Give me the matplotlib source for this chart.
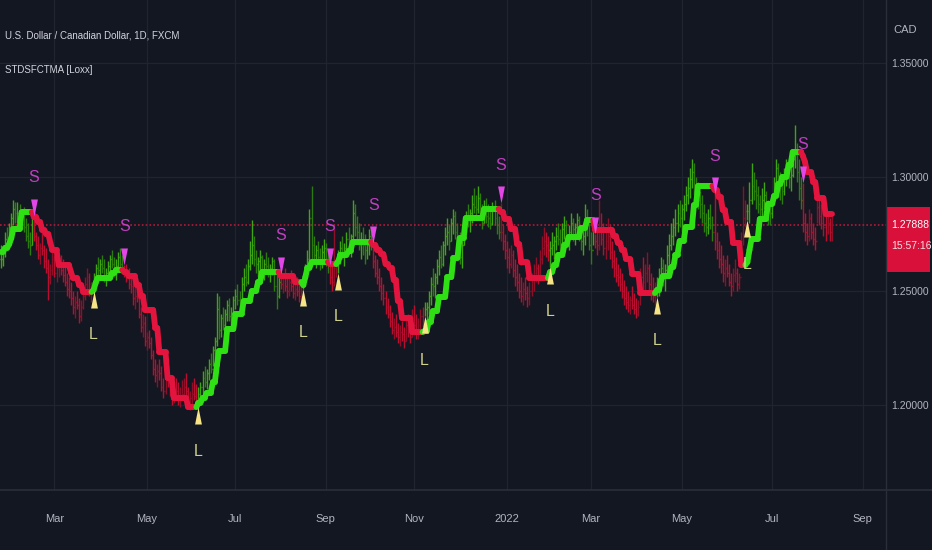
import numpy as np
import pandas as pd
import matplotlib
matplotlib.use("Agg")
import matplotlib.pyplot as plt
from matplotlib.collections import LineCollection
from matplotlib.lines import Line2D
from matplotlib.path import Path
from matplotlib.patches import Rectangle
import matplotlib.transforms as mtransforms

plt.rcParams['font.family'] = ['Liberation Sans', 'DejaVu Sans']

# USDCAD daily bars (business days from first_bar), prices in pips (1e-4)
high = [
    12700, 12690, 12760, 12780, 12800, 12840, 12900, 12890, 12890, 12880,
    12860, 12870, 12820, 12800, 12760, 12850, 12830, 12760, 12740, 12710,
    12760, 12700, 12690, 12640, 12620, 12680, 12660, 12620, 12650, 12660,
    12640, 12610, 12580, 12560, 12540, 12500, 12480, 12500, 12470, 12460,
    12520, 12560, 12600, 12580, 12540, 12580, 12620, 12650, 12640, 12660,
    12640, 12600, 12630, 12660, 12680, 12650, 12640, 12670, 12690, 12660,
    12615, 12620, 12600, 12580, 12560, 12520, 12540, 12500, 12430, 12400,
    12390, 12320, 12330, 12300, 12240, 12200, 12180, 12200, 12170, 12120,
    12140, 12170, 12130, 12090, 12100, 12120, 12100, 12080, 12110, 12120,
    12140, 12080, 12060, 12100, 12120, 12090, 12080, 12100, 12150, 12170,
    12160, 12200, 12230, 12260, 12300, 12490, 12480, 12400, 12430, 12420,
    12460, 12470, 12430, 12480, 12510, 12530, 12500, 12560, 12600, 12620,
    12640, 12720, 12810, 12740, 12680, 12650, 12680, 12660, 12640, 12670,
    12650, 12620, 12650, 12640, 12580, 12560, 12575, 12580, 12600, 12570,
    12560, 12590, 12560, 12540, 12560, 12530, 12520, 12560, 12620, 12680,
    12860, 12960, 12740, 12700, 12720, 12690, 12700, 12730, 12710, 12680,
    12615, 12620, 12770, 12640, 12680, 12720, 12740, 12710, 12760, 12780,
    12750, 12900, 12880, 12830, 12800, 12760, 12780, 12750, 12730, 12770,
    12780, 12710, 12660, 12640, 12600, 12560, 12530, 12500, 12470, 12440,
    12410, 12380, 12400, 12360, 12350, 12370, 12340, 12380, 12400, 12360,
    12420, 12440, 12400, 12380, 12420, 12430, 12450, 12450, 12500, 12560,
    12600, 12580, 12640, 12680, 12700, 12720, 12780, 12820, 12790, 12820,
    12860, 12850, 12800, 12760, 12730, 12800, 12850, 12880, 12860, 12920,
    12950, 12920, 12960, 12930, 12880, 12900, 12910, 12880, 12870, 12890,
    12900, 12850, 12830, 12885, 12790, 12750, 12720, 12690, 12700, 12680,
    12640, 12620, 12580, 12560, 12540, 12560, 12520, 12540, 12580, 12620,
    12650, 12620, 12680, 12740, 12780, 12760, 12740, 12720, 12760, 12740,
    12780, 12800, 12770, 12800, 12830, 12810, 12790, 12840, 12820, 12800,
    12840, 12830, 12790, 12770, 12880, 12860, 12800, 12760, 12820, 12750,
    12780, 12900, 12840, 12800, 12760, 12820, 12790, 12720, 12680, 12650,
    12620, 12600, 12580, 12550, 12520, 12500, 12480, 12520, 12490, 12470,
    12460, 12600, 12650, 12620, 12670, 12620, 12580, 12560, 12540, 12560,
    12600, 12650, 12640, 12620, 12700, 12750, 12800, 12820, 12860, 12880,
    12900, 12880, 12920, 12960, 13000, 13040, 13080, 13060, 13000, 12980,
    12940, 12920, 12880, 12840, 12860, 12880, 12830, 12925, 12760, 12720,
    12700, 12660, 12640, 12660, 12620, 12580, 12600, 12640, 12600, 12580,
    12760, 12960, 12900, 12880, 12980, 13060, 13020, 12990, 12960, 12920,
    12950, 12980, 12940, 12900, 12880, 12920, 13000, 13080, 13060, 13020,
    13000, 13040, 13080, 13060, 13050, 13120, 13230, 13150, 13080, 13000,
    12975, 12840, 12800, 12860, 12840, 12800, 12780, 12980, 12920, 12880,
    12860, 12840, 12830, 12820, 12830,
]
low = [
    12600, 12610, 12650, 12690, 12700, 12750, 12790, 12800, 12800, 12790,
    12770, 12760, 12720, 12690, 12660, 12700, 12720, 12680, 12640, 12620,
    12660, 12600, 12580, 12460, 12530, 12570, 12560, 12540, 12560, 12570,
    12540, 12520, 12480, 12470, 12440, 12400, 12380, 12420, 12360, 12370,
    12420, 12460, 12500, 12480, 12450, 12500, 12530, 12560, 12550, 12580,
    12540, 12520, 12550, 12580, 12600, 12560, 12550, 12590, 12600, 12580,
    12560, 12540, 12510, 12490, 12440, 12420, 12450, 12380, 12320, 12300,
    12260, 12240, 12250, 12200, 12130, 12100, 12080, 12110, 12060, 12030,
    12050, 12080, 12040, 12000, 12010, 12040, 12000, 11990, 12020, 12030,
    12040, 11990, 11980, 12000, 12020, 11990, 11990, 12020, 12050, 12080,
    12070, 12110, 12140, 12170, 12200, 12260, 12290, 12300, 12330, 12320,
    12370, 12370, 12330, 12380, 12420, 12440, 12400, 12450, 12500, 12520,
    12530, 12590, 12620, 12610, 12580, 12560, 12590, 12560, 12550, 12580,
    12560, 12540, 12570, 12500, 12420, 12470, 12510, 12490, 12500, 12470,
    12480, 12500, 12470, 12460, 12480, 12450, 12460, 12510, 12520, 12580,
    12600, 12640, 12620, 12600, 12630, 12590, 12600, 12630, 12610, 12580,
    12530, 12500, 12520, 12560, 12580, 12620, 12640, 12610, 12660, 12680,
    12650, 12700, 12740, 12720, 12680, 12640, 12660, 12620, 12640, 12660,
    12680, 12600, 12560, 12530, 12500, 12460, 12440, 12400, 12380, 12340,
    12310, 12290, 12300, 12270, 12260, 12280, 12250, 12280, 12300, 12270,
    12300, 12330, 12290, 12290, 12320, 12340, 12390, 12350, 12400, 12440,
    12480, 12470, 12530, 12570, 12600, 12610, 12660, 12700, 12680, 12720,
    12750, 12730, 12690, 12620, 12600, 12700, 12760, 12780, 12760, 12800,
    12840, 12820, 12840, 12810, 12770, 12800, 12800, 12780, 12770, 12790,
    12790, 12750, 12730, 12720, 12680, 12640, 12600, 12580, 12600, 12560,
    12520, 12500, 12470, 12450, 12440, 12460, 12430, 12440, 12480, 12500,
    12540, 12530, 12560, 12620, 12660, 12650, 12630, 12605, 12660, 12640,
    12680, 12700, 12660, 12690, 12730, 12700, 12680, 12740, 12720, 12700,
    12740, 12720, 12680, 12660, 12700, 12740, 12680, 12620, 12700, 12690,
    12660, 12680, 12700, 12660, 12640, 12680, 12640, 12600, 12560, 12540,
    12520, 12500, 12470, 12440, 12420, 12410, 12400, 12420, 12400, 12380,
    12390, 12440, 12500, 12490, 12540, 12500, 12460, 12450, 12440, 12475,
    12480, 12540, 12520, 12500, 12580, 12620, 12680, 12700, 12740, 12760,
    12780, 12760, 12810, 12850, 12880, 12910, 12950, 12920, 12880, 12860,
    12820, 12800, 12760, 12740, 12750, 12770, 12720, 12680, 12640, 12600,
    12580, 12540, 12520, 12560, 12520, 12480, 12500, 12540, 12500, 12510,
    12620, 12700, 12780, 12810, 12800, 12880, 12900, 12860, 12840, 12810,
    12830, 12860, 12820, 12790, 12790, 12820, 12880, 12940, 12940, 12900,
    12880, 12920, 12960, 12950, 12940, 13000, 13040, 12980, 12900, 12860,
    12760, 12720, 12700, 12720, 12730, 12700, 12680, 12800, 12790, 12770,
    12740, 12720, 12750, 12720, 12720,
]
close = [
    12640, 12670, 12730, 12710, 12780, 12820, 12860, 12840, 12840, 12810,
    12830, 12780, 12740, 12720, 12700, 12830, 12740, 12700, 12660, 12690,
    12680, 12630, 12600, 12560, 12590, 12640, 12580, 12600, 12620, 12590,
    12570, 12540, 12510, 12500, 12470, 12430, 12450, 12440, 12390, 12430,
    12480, 12530, 12560, 12510, 12520, 12560, 12600, 12590, 12620, 12600,
    12560, 12580, 12610, 12640, 12620, 12580, 12610, 12650, 12620, 12600,
    12580, 12560, 12530, 12520, 12470, 12480, 12470, 12400, 12340, 12360,
    12280, 12300, 12270, 12220, 12160, 12130, 12150, 12140, 12080, 12060,
    12110, 12100, 12060, 12030, 12070, 12060, 12020, 12040, 12050, 12080,
    12060, 12010, 12030, 12050, 12040, 12020, 12050, 12080, 12120, 12100,
    12140, 12180, 12160, 12240, 12280, 12420, 12330, 12380, 12350, 12400,
    12440, 12390, 12400, 12460, 12480, 12460, 12450, 12530, 12560, 12540,
    12610, 12660, 12700, 12640, 12620, 12630, 12650, 12590, 12620, 12610,
    12580, 12600, 12630, 12520, 12480, 12540, 12530, 12560, 12520, 12500,
    12540, 12520, 12490, 12510, 12500, 12480, 12500, 12540, 12600, 12640,
    12820, 12700, 12660, 12680, 12650, 12620, 12670, 12690, 12640, 12620,
    12560, 12540, 12600, 12610, 12650, 12690, 12670, 12690, 12730, 12710,
    12740, 12840, 12780, 12760, 12700, 12720, 12700, 12680, 12700, 12740,
    12720, 12630, 12580, 12560, 12520, 12490, 12470, 12430, 12400, 12370,
    12330, 12340, 12320, 12300, 12320, 12310, 12280, 12350, 12330, 12300,
    12380, 12350, 12320, 12350, 12390, 12360, 12420, 12430, 12480, 12530,
    12520, 12560, 12610, 12650, 12620, 12700, 12740, 12760, 12720, 12800,
    12830, 12760, 12720, 12650, 12700, 12780, 12820, 12810, 12840, 12880,
    12870, 12860, 12910, 12840, 12800, 12860, 12830, 12820, 12800, 12860,
    12820, 12790, 12760, 12760, 12720, 12680, 12650, 12620, 12660, 12590,
    12560, 12540, 12500, 12480, 12510, 12490, 12470, 12500, 12550, 12580,
    12600, 12570, 12640, 12690, 12720, 12700, 12680, 12690, 12700, 12720,
    12740, 12730, 12700, 12770, 12790, 12740, 12760, 12800, 12770, 12780,
    12810, 12760, 12720, 12740, 12820, 12790, 12700, 12680, 12790, 12720,
    12700, 12760, 12730, 12690, 12720, 12740, 12670, 12630, 12600, 12570,
    12560, 12530, 12500, 12470, 12450, 12440, 12460, 12440, 12420, 12400,
    12430, 12560, 12540, 12580, 12600, 12530, 12500, 12480, 12500, 12530,
    12570, 12600, 12560, 12590, 12660, 12700, 12740, 12780, 12800, 12840,
    12820, 12860, 12880, 12920, 12950, 12990, 13020, 12960, 12930, 12900,
    12880, 12840, 12800, 12780, 12820, 12790, 12760, 12720, 12680, 12640,
    12620, 12580, 12600, 12580, 12540, 12520, 12570, 12580, 12530, 12560,
    12720, 12820, 12850, 12850, 12900, 12960, 12940, 12920, 12880, 12860,
    12900, 12920, 12880, 12850, 12840, 12880, 12960, 13040, 13000, 12960,
    12940, 13010, 13040, 13000, 13010, 13080, 13100, 13020, 12950, 12900,
    12800, 12760, 12740, 12820, 12760, 12730, 12720, 12870, 12830, 12800,
    12780, 12760, 12800, 12760, 12789,
]

# STDSFCTMA line, run-length: level (pips) and number of bars it holds
ma_level = [
    12672, 12689, 12706, 12732, 12772, 12846,
    12825, 12803, 12768, 12750, 12711, 12680, 12614, 12583, 12557, 12526, 12496,
    12504, 12535, 12557, 12579, 12592,
    12583, 12566, 12526, 12478, 12417, 12338, 12232, 12118, 12031, 11991,
    12009, 12031, 12053, 12100, 12175, 12237, 12333, 12399, 12456, 12500, 12539, 12583,
    12566, 12539,
    12526, 12561, 12601, 12627,
    12618,
    12630, 12658, 12676, 12715,
    12702, 12680, 12662, 12618, 12601, 12548, 12456, 12382, 12320,
    12325, 12364, 12412, 12474, 12561, 12645, 12732, 12820, 12860,
    12847, 12816, 12772, 12706, 12625, 12557,
    12583, 12614, 12658, 12702, 12737, 12776, 12811,
    12768, 12741, 12711, 12680, 12640, 12575, 12491,
    12504, 12548, 12566, 12605, 12658, 12719, 12781, 12877, 12961,
    12943, 12912, 12855, 12803, 12711, 12614,
    12627, 12680, 12728, 12816, 12882, 12917, 12969, 13000, 13053, 13110,
    13092, 13066, 13022, 12978, 12908, 12838,
]
ma_len = [
    2, 2, 1, 1, 4, 6,
    2, 2, 2, 2, 1, 3, 6, 1, 3, 2, 5,
    1, 1, 7, 2, 4,
    2, 4, 2, 2, 5, 2, 4, 3, 7, 5,
    2, 2, 3, 2, 1, 4, 4, 4, 4, 3, 2, 9,
    7, 4,
    1, 1, 2, 9,
    4,
    1, 4, 2, 10,
    2, 2, 2, 2, 2, 2, 2, 5, 6,
    2, 2, 3, 4, 3, 3, 3, 9, 8,
    2, 3, 3, 2, 4, 10,
    2, 2, 3, 2, 6, 3, 4,
    9, 2, 2, 2, 3, 4, 8,
    2, 1, 4, 2, 2, 3, 4, 2, 8,
    2, 2, 2, 3, 4, 3,
    1, 1, 4, 4, 3, 2, 2, 3, 2, 5,
    1, 1, 3, 2, 4, 4,
]

short_at = [16, 60, 136, 160, 181, 243, 289, 347, 390]
long_at = [45, 96, 147, 164, 206, 267, 319, 363]

first_bar = "2021-01-22"
last_price = 1.27888
countdown = "15:57:16"
y_ticks = [1.20, 1.25, 1.30, 1.35]

BG = "#131722"
GRID = "#20242f"
BORDER = "#2a2e39"
TXT = "#b2b5be"
LINE_G = "#2fe015"
LINE_R = "#e3143d"
BAR_G_UP, BAR_G_DN = "#3fa514", "#2c7a10"
BAR_R_UP, BAR_R_DN = "#8c1028", "#b80f30"
S_COL, S_TXT = "#e346e6", "#c23fc4"
L_COL, L_TXT = "#f6e486", "#cfd08a"

hi = np.array(high) / 1e4
lo = np.array(low) / 1e4
cl = np.array(close) / 1e4
op = np.r_[cl[0], cl[:-1]]
ma = np.repeat(ma_level, ma_len) / 1e4
n = len(cl)
x = np.arange(n)

# trend state from the signals: +1 after L, -1 after S
state = np.ones(n)
for i, s in sorted([(i, -1) for i in short_at] + [(i, 1) for i in long_at]):
    state[i:] = s

fig = plt.figure(figsize=(9.32, 5.5), dpi=100, facecolor=BG)
ax = fig.add_axes([0, 60 / 550, 886 / 932, 490 / 550])
ax.set_facecolor(BG)
ax.set_xlim(-0.5, 430.4)
ax.set_ylim(1.16272, 1.37763)
for sp in ax.spines.values():
    sp.set_visible(False)

# month ticks on the bar index axis
dates = pd.bdate_range(first_bar, periods=440)
newm = np.r_[False, dates.month[1:] != dates.month[:-1]]
tick_pos = [i for i in np.flatnonzero(newm) if dates[i].month % 2 == 1 and i < 430]
tick_lab = [str(dates[i].year) if dates[i].month == 1 else dates[i].strftime("%b")
            for i in tick_pos]
ax.set_xticks(tick_pos, tick_lab)
ax.yaxis.tick_right()
ax.set_yticks(y_ticks, ["%.5f" % v for v in y_ticks])
ax.tick_params(axis="x", length=0, pad=17, labelsize=8, labelcolor=TXT)
ax.tick_params(axis="y", length=0, pad=4, labelsize=7.5, labelcolor=TXT)
ax.grid(color=GRID, lw=0.9)
ax.set_axisbelow(True)

# OHLC bars
up = cl >= op
col = np.where(state > 0, np.where(up, BAR_G_UP, BAR_G_DN),
               np.where(up, BAR_R_UP, BAR_R_DN))
ax.vlines(x, lo, hi, colors=col, lw=1.0, zorder=2)
ax.hlines(op, x - 0.45, x, colors=col, lw=1.0, zorder=2)
ax.hlines(cl, x, x + 0.45, colors=col, lw=1.0, zorder=2)

# thick trend line, coloured by state
pts = np.column_stack([x, ma])
segs = np.stack([pts[:-1], pts[1:]], axis=1)
lc = LineCollection(segs, colors=np.where(state[1:] > 0, LINE_G, LINE_R),
                    lw=4.2, capstyle="round", zorder=3)
ax.add_collection(lc)

# price line
ax.axhline(last_price, color="#b3193a", lw=1.2, ls=(0, (1, 1.3)), zorder=1)

# signal shapes: tip at the bar extreme
tri_dn = Path([(-0.2, 1.0), (0.2, 1.0), (0.0, 0.0), (-0.2, 1.0)],
              [Path.MOVETO, Path.LINETO, Path.LINETO, Path.CLOSEPOLY])
tri_up = Path([(-0.2, -1.0), (0.2, -1.0), (0.0, 0.0), (-0.2, -1.0)],
              [Path.MOVETO, Path.LINETO, Path.LINETO, Path.CLOSEPOLY])
ax.plot(short_at, hi[short_at], ls="none", marker=tri_dn, ms=24.5,
        mfc=S_COL, mec="none", zorder=4)
ax.plot(long_at, lo[long_at], ls="none", marker=tri_up, ms=24.5,
        mfc=L_COL, mec="none", zorder=4)
for i in short_at:
    ax.annotate("S", (i, hi[i]), xytext=(0, 38), textcoords="offset pixels",
                ha="center", va="center", color=S_TXT, fontsize=11.5)
for i in long_at:
    ax.annotate("L", (i, lo[i]), xytext=(0, -44), textcoords="offset pixels",
                ha="center", va="center", color=L_TXT, fontsize=11.5)

# last price label on the scale
trans = mtransforms.blended_transform_factory(ax.transAxes, ax.transData)
dpp = (ax.get_ylim()[1] - ax.get_ylim()[0]) / 490
ax.add_patch(Rectangle((1.0, last_price - 47 * dpp), 44 / 886, 65 * dpp,
                       transform=trans, facecolor="#d8103a", edgecolor="none",
                       clip_on=False, zorder=5))
ax.text(1 + 5 / 886, last_price, "%.5f" % last_price, transform=trans,
        color="white", fontsize=7.5, va="center", ha="left", zorder=6)
ax.text(1 + 5 / 886, last_price - 21 * dpp, countdown, transform=trans,
        color="#f0e0e4", fontsize=7.5, va="center", ha="left", zorder=6)

# panel borders
fig.add_artist(Line2D([0, 1], [60 / 550, 60 / 550], color=BORDER, lw=1.2,
                      transform=fig.transFigure))
fig.add_artist(Line2D([886 / 932, 886 / 932], [0, 1], color=BORDER, lw=1.0,
                      transform=fig.transFigure))

fig.text(5 / 932, 1 - 35 / 550, "U.S. Dollar / Canadian Dollar, 1D, FXCM",
         color="#d1d4dc", fontsize=7, va="center")
fig.text(5 / 932, 1 - 70 / 550, "STDSFCTMA [Loxx]", color="#d1d4dc",
         fontsize=7, va="center")
fig.text(893 / 932, 1 - 30 / 550, "CAD", color=TXT, fontsize=8, va="center")

fig.savefig("out.png", dpi=100, facecolor=BG)
